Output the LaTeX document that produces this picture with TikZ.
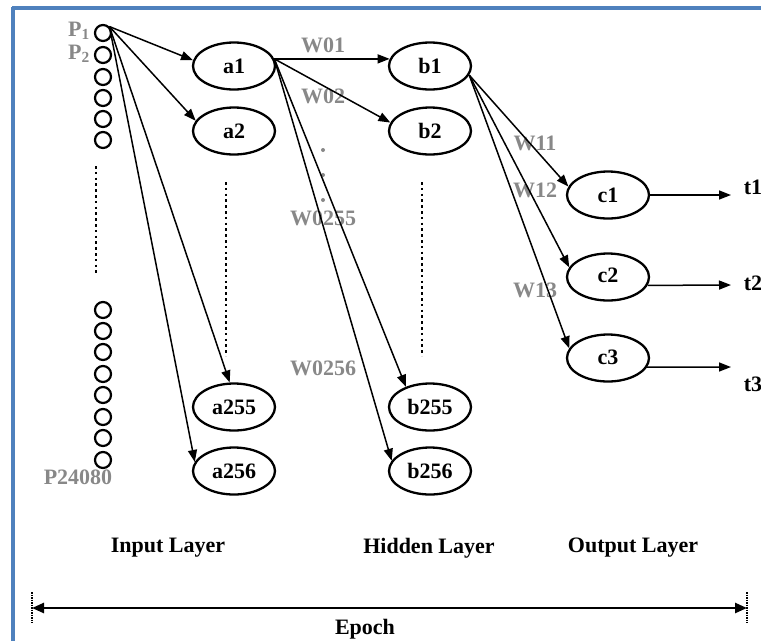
\documentclass[tikz,border=0pt]{standalone}
\usepackage{fontspec}
\setmainfont{Liberation Serif}
\usetikzlibrary{shapes.geometric,arrows.meta}
\definecolor{frameblue}{RGB}{79,129,189}
\definecolor{wgray}{RGB}{136,136,136}
\begin{document}
\begin{tikzpicture}[x=1pt,y=-1pt,
  every node/.style={font=\fontsize{22}{24}\selectfont\bfseries},
  neuron/.style={draw, ellipse, line width=2.3pt, minimum width=82pt, minimum height=47pt, inner sep=0pt},
  inp/.style={draw, circle, line width=2.2pt, minimum size=16pt, inner sep=0pt},
  conn/.style={line width=1.5pt, -{Triangle[length=12pt,width=9pt]}},
  wlab/.style={text=wgray, inner sep=0pt},
  dots/.style={line width=2.6pt, dash pattern=on 2.6pt off 3.2pt},
  lab/.style={inner sep=0pt}]
\useasboundingbox (0,0) rectangle (761,641);
% frame
\draw[frameblue, line width=3.2pt] (12,8) -- (761,8);
\draw[frameblue, line width=3.2pt] (13,7) -- (13,641);

% input circles
\node[inp] (p1) at (103,33) {};
\node[inp] (p2) at (103,55) {};
\node[inp] (p3) at (103,77) {};
\node[inp] (p4) at (103,98) {};
\node[inp] (p5) at (103,119) {};
\node[inp] (p6) at (103,140) {};
\node[inp] (q1) at (103,310) {};
\node[inp] (q2) at (103,331) {};
\node[inp] (q3) at (103,352) {};
\node[inp] (q4) at (103,374) {};
\node[inp] (q5) at (103,395) {};
\node[inp] (q6) at (103,417) {};
\node[inp] (q7) at (103,438) {};
\node[inp] (q8) at (103,460) {};
\draw[dots] (96,166) -- (96,276);

\node[wlab, anchor=east] (lp1) at (90,31) {P\textsubscript{1}};
\node[wlab, anchor=east] (lp2) at (90,54) {P\textsubscript{2}};
\node[wlab] (lp3) at (78,477) {P24080};

% layer a
\node[neuron] (a1) at (234,66) {a1};
\node[neuron] (a2) at (234,131) {a2};
\node[neuron] (a255) at (234,407) {a255};
\node[neuron] (a256) at (234,471) {a256};
\draw[dots] (226,182) -- (226,356);

% layer b
\node[neuron] (b1) at (430,66) {b1};
\node[neuron] (b2) at (430,131) {b2};
\node[neuron] (b255) at (430,407) {b255};
\node[neuron] (b256) at (430,471) {b256};
\draw[dots] (422,182) -- (422,356);

% layer c
\node[neuron] (c1) at (608,195) {c1};
\node[neuron] (c2) at (608,277) {\raisebox{3pt}{c2}};
\node[neuron] (c3) at (608,358) {\raisebox{2pt}{c3}};

% weights labels
\node[wlab] (w01) at (323,45) {W01};
\node[wlab] (w02) at (323,96) {W02};
\fill[wgray] (323,150) circle (2);
\fill[wgray] (323,175) circle (2);
\fill[wgray] (323,200) circle (2);
\node[wlab] (w0255) at (323,218) {W0255};
\node[wlab] (w0256) at (323,368) {W0256};
\node[wlab] (w11) at (535,143) {W11};
\node[wlab] (w12) at (535,190) {W12};
\node[wlab] (w13) at (535,290) {W13};

% connections input -> a
\draw[conn] (p1.45) -- (a1.172);
\draw[conn] (p1.45) -- (a2.165);
\draw[conn] (p1.45) -- (a255.100);
\draw[conn] (p1.45) -- (a256.167);

% a1 -> b
\draw[conn] (a1.10) -- (b1.170);
\draw[conn] (a1.10) -- (b2.168);
\draw[conn] (a1.10) -- (b255.140);
\draw[conn] (a1.10) -- (b256.165);

% b1 -> c
\draw[conn] (b1.-13) -- (c1.168);
\draw[conn] (b1.-13) -- (c2.166);
\draw[conn] (b1.-13) -- (c3.166);

% outputs
\coordinate (o1) at (731,195);
\coordinate (o2) at (731,285);
\coordinate (o3) at (731,367);
\draw[conn] (c1.east) -- (o1);
\draw[conn] (c2.-12) -- (o2);
\draw[conn] (c3.-13) -- (o3);
\node[lab] (t1) at (753,187) {t1};
\node[lab] (t2) at (753,283) {t2};
\node[lab] (t3) at (753,384) {t3};

% layer titles
\node[lab] (il) at (168,548) {Input Layer};
\node[lab] (hl) at (429,548) {Hidden Layer};
\node[lab] (ol) at (633,548) {Output Layer};

% epoch
\coordinate (eL) at (32,608);
\coordinate (eR) at (747,608);
\draw[line width=1.5pt, dash pattern=on 1.5pt off 1pt] (32,592) -- (32,623);
\draw[line width=1.5pt, dash pattern=on 1.5pt off 1pt] (747,592) -- (747,623);
\draw[line width=2.5pt, {Triangle[length=12pt,width=10pt]}-{Triangle[length=12pt,width=10pt]}] (eL) -- (eR);
\node[lab] (ep) at (365,629) {Epoch};
\end{tikzpicture}
\end{document}
